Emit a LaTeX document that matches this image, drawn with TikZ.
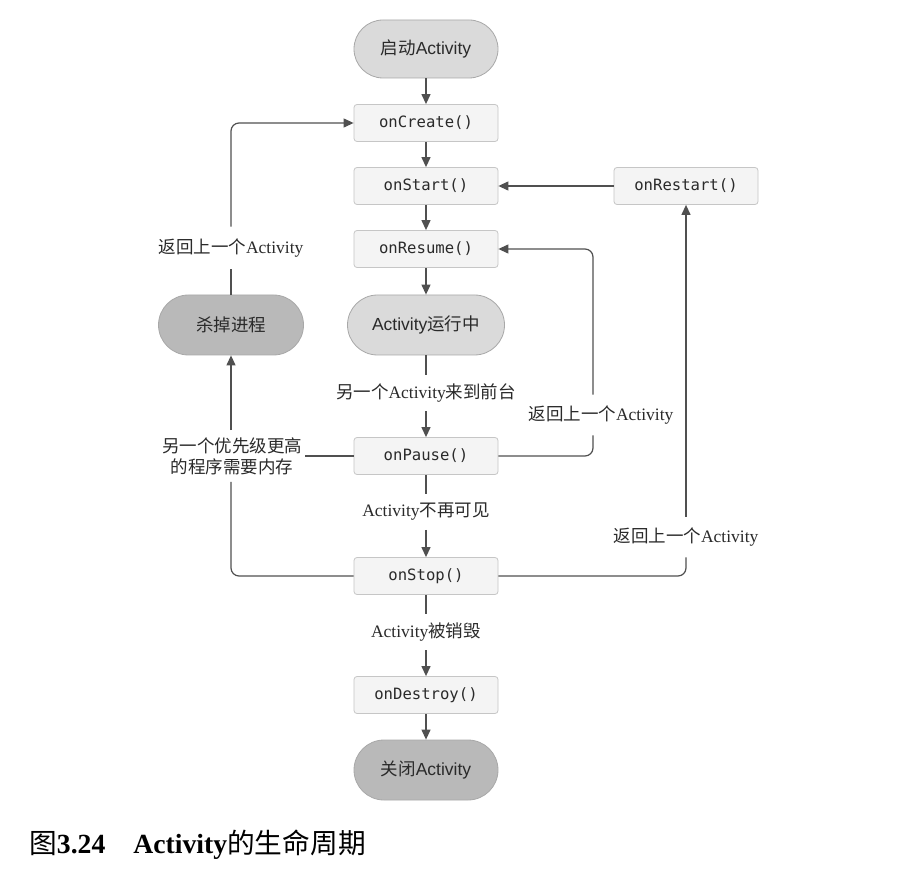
\documentclass[tikz,border=0pt]{standalone}
\usepackage{fontspec}
\setmainfont{Liberation Serif}
\newfontfamily\cjk{Noto Sans CJK SC}
\newfontfamily\monofont{DejaVu Sans Mono}
\newfontfamily\sansfont{Liberation Sans}
\usetikzlibrary{arrows.meta,calc}

\definecolor{boxfill}{HTML}{F4F4F4}
\definecolor{boxline}{HTML}{C6C6C6}
\definecolor{stateline}{HTML}{A8A8A8}
\definecolor{statelight}{HTML}{DADADA}
\definecolor{statedark}{HTML}{B9B9B9}
\definecolor{flowline}{HTML}{505050}
\definecolor{textdark}{HTML}{2A2A2A}

\tikzset{
  method/.style={draw=boxline, fill=boxfill, rounded corners=3pt,
    minimum width=144pt, minimum height=37pt, inner sep=0pt, line width=0.8pt,
    text=textdark, font=\monofont\fontsize{15.6}{18}\selectfont},
  state/.style={draw=stateline, rounded corners=29pt,
    minimum width=144pt, minimum height=58pt, inner sep=0pt, line width=0.8pt,
    text=textdark, font=\sansfont\fontsize{17.5}{21}\selectfont},
  lightstate/.style={state, fill=statelight},
  darkstate/.style={state, fill=statedark},
  note/.style={font=\fontsize{17.5}{21}\selectfont, text=textdark,
    inner xsep=3pt, inner ysep=9pt, align=center},
  flow/.style={draw=flowline, line width=1.2pt, rounded corners=8pt},
  arr/.style={flow, -{Triangle[length=10pt,width=9pt]}}
}

\begin{document}
\begin{tikzpicture}[x=1pt, y=-1pt]
  \fill[white] (0,0) rectangle (918,874);
  \path[use as bounding box] (0,0) rectangle (918,874);

  % lifecycle states and callbacks
  \node[lightstate] (launch) at (426,49) {{\cjk 启动}Activity};
  \node[method] (create) at (426,123) {onCreate()};
  \node[method] (start) at (426,186) {onStart()};
  \node[method] (resume) at (426,249) {onResume()};
  \node[lightstate, minimum width=157pt, minimum height=60pt, rounded corners=30pt]
    (running) at (426,325) {Activity{\cjk 运行中}};
  \node[method] (pause) at (426,456) {onPause()};
  \node[method] (stop) at (426,576) {onStop()};
  \node[method] (destroy) at (426,695) {onDestroy()};
  \node[darkstate, minimum height=60pt, rounded corners=30pt]
    (close) at (426,770) {{\cjk 关闭}Activity};
  \node[method] (restart) at (686,186) {onRestart()};
  \node[darkstate, minimum width=145pt, minimum height=60pt, rounded corners=30pt]
    (kill) at (231,325) {{\cjk 杀掉进程}};

  % transition labels
  \node[note] (fg) at (426,393) {{\cjk 另一个}Activity{\cjk 来到前台}};
  \node[note] (hidden) at (426,512) {Activity{\cjk 不再可见}};
  \node[note] (gone) at (426,632) {Activity{\cjk 被销毁}};
  \node[note, inner ysep=12pt] (backL) at (231,248) {{\cjk 返回上一个}Activity};
  \node[note, inner ysep=11pt] (backM) at (601,415) {{\cjk 返回上一个}Activity};
  \node[note, inner ysep=11pt] (backR) at (686,537) {{\cjk 返回上一个}Activity};
  \node[note, inner ysep=7pt] (mem) at (232,456)
    {{\cjk 另一个优先级更高}\\{\cjk 的程序需要内存}};

  % main column
  \draw[arr] (launch) -- (create);
  \draw[arr] (create) -- (start);
  \draw[arr] (start) -- (resume);
  \draw[arr] (resume) -- (running);
  \draw[flow] (running) -- (fg);
  \draw[arr] (fg) -- (pause);
  \draw[flow] (pause) -- (hidden);
  \draw[arr] (hidden) -- (stop);
  \draw[flow] (stop) -- (gone);
  \draw[arr] (gone) -- (destroy);
  \draw[arr] (destroy) -- (close);

  % restart branch
  \draw[arr] (restart) -- (start);
  \draw[flow] (stop.east) -| (backR.south);
  \draw[arr] (backR.north) -- (restart.south);

  % pause back to resume
  \coordinate (colM) at (593,0);
  \draw[flow] (pause.east) -| (colM |- backM.south);
  \draw[arr] (colM |- backM.north) |- (resume.east);

  % process killed and recreated
  \draw[flow] (pause.west) -- (mem.east);
  \draw[flow] (stop.west) -| (mem.south -| kill.south);
  \draw[arr] (mem.north -| kill.north) -- (kill.south);
  \draw[flow] (kill.north) -- (backL.south);
  \draw[arr] (backL.north) |- (create.west);

  % caption
  \node[anchor=west, inner sep=0pt, text=black, font=\fontsize{27.7}{32}\selectfont]
    (caption) at (29,845)
    {{\cjk 图}\textbf{3.24}\hspace{28pt}\textbf{Activity}{\cjk 的生命周期}};
\end{tikzpicture}
\end{document}
